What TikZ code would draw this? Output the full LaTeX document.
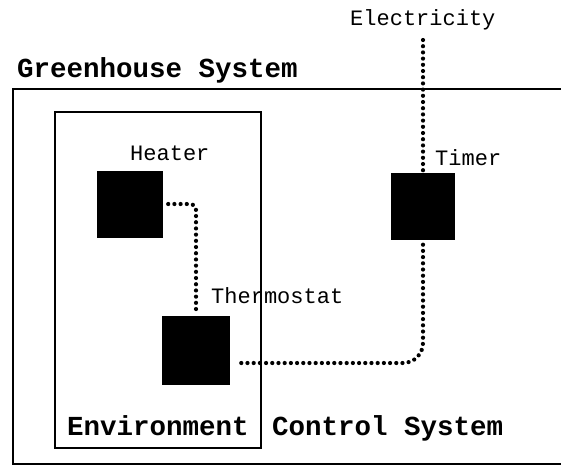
\documentclass[tikz,border=0pt]{standalone}
\usepackage{fontspec}
\setmonofont{Liberation Mono}
\usetikzlibrary{arrows.meta,positioning,calc}

\begin{document}
\begin{tikzpicture}[x=1pt,y=-1pt,
  unit/.style={draw=none,fill=black,minimum width=66pt,minimum height=67pt,inner sep=0pt},
  lbl/.style={anchor=base west,inner sep=0pt,font=\ttfamily\fontsize{22}{22}\selectfont},
  big/.style={anchor=base west,inner sep=0pt,font=\ttfamily\bfseries\fontsize{27.5}{27.5}\selectfont},
  wire/.style={line width=4.2pt,line cap=round,dash pattern=on 0pt off 6.2pt},
  frame/.style={line width=1.6pt}]
  \fill[white] (0,0) rectangle (561,467);
  \useasboundingbox (0,0) rectangle (561,467);
  % system borders
  \draw[frame] (561,89) -- (13,89) -- (13,464) -- (561,464);
  \draw[frame] (55,112) rectangle (261,448);
  \node[big] (ghs) at (17,77) {Greenhouse System};
  \node[big] (env) at (67,435) {Environment};
  \node[big] (ctl) at (272,435) {Control System};
  % components
  \node[unit] (heater) at (130,204) {};
  \node[unit,minimum width=64pt] (timer) at (423,206) {};
  \node[unit,minimum width=68pt,minimum height=69pt] (thermo) at (196,350.5) {};
  \node[lbl] (heaterlbl) at (130,160) {Heater};
  \node[lbl] (timerlbl) at (435,165) {Timer};
  \node[lbl] (thermolbl) at (211,303) {Thermostat};
  \node[lbl] (elec) at (350,25) {Electricity};
  \coordinate (power) at (423,40);
  % wiring
  \draw[wire] (power) -- ([yshift=-3pt]timer.north);
  \draw[wire,rounded corners=6pt] ([xshift=5pt]heater.east) -| ([yshift=3pt]thermo.north);
  \draw[wire,rounded corners=20pt] ([yshift=-5pt]timer.south) |- ([xshift=5pt,yshift=-12.5pt]thermo.east);
\end{tikzpicture}
\end{document}
